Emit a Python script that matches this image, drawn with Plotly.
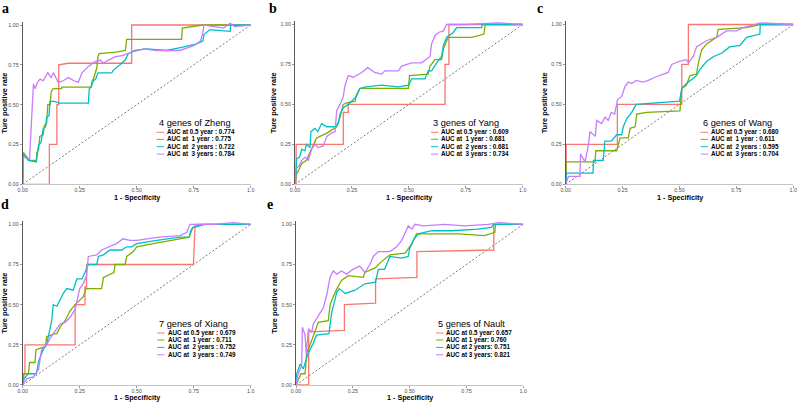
import plotly.graph_objects as go

COLORS = ["#F8766D", "#7CAE00", "#00BFC4", "#C77CFF"]

# ---------------- Panel a: 4 genes of Zheng ----------------
A_05_X = [0, 0.117, 0.117, 0.150, 0.150, 0.158, 0.158, 0.20, 0.478, 0.478, 1.0]
A_05_Y = [0, 0, 0.25, 0.25, 0.50, 0.50, 0.75, 0.76, 0.76, 1.0, 1.0]
A_1_X = [0, 0.003, 0.03, 0.06, 0.062, 0.07, 0.075, 0.09, 0.095, 0.105, 0.11, 0.12, 0.125, 0.134, 0.17, 0.172, 0.30, 0.305, 0.31, 0.32, 0.325, 0.33, 0.335, 0.41, 0.45, 0.456, 0.697, 0.70, 0.79, 1.0]
A_1_Y = [0, 0.20, 0.15, 0.15, 0.20, 0.22, 0.30, 0.31, 0.37, 0.38, 0.50, 0.50, 0.58, 0.60, 0.60, 0.61, 0.61, 0.65, 0.66, 0.72, 0.73, 0.80, 0.82, 0.83, 0.84, 0.91, 0.91, 0.98, 1.0, 1.0]
A_2_X = [0, 0.003, 0.025, 0.06, 0.065, 0.07, 0.08, 0.083, 0.09, 0.10, 0.105, 0.115, 0.12, 0.14, 0.16, 0.288, 0.292, 0.30, 0.31, 0.32, 0.33, 0.39, 0.40, 0.427, 0.449, 0.463, 0.49, 0.544, 0.63, 0.697, 0.76, 0.79, 0.795, 0.82, 0.83, 0.91, 0.912, 1.0]
A_2_Y = [0, 0.19, 0.15, 0.14, 0.20, 0.25, 0.26, 0.30, 0.35, 0.36, 0.42, 0.43, 0.52, 0.52, 0.51, 0.51, 0.60, 0.61, 0.65, 0.66, 0.70, 0.70, 0.72, 0.75, 0.78, 0.82, 0.84, 0.85, 0.84, 0.86, 0.88, 0.90, 0.94, 0.97, 0.97, 0.96, 1.0, 1.0]
A_3_X = [0, 0.003, 0.03, 0.04, 0.047, 0.055, 0.065, 0.076, 0.09, 0.11, 0.125, 0.135, 0.156, 0.178, 0.20, 0.225, 0.244, 0.26, 0.288, 0.317, 0.34, 0.354, 0.376, 0.405, 0.44, 0.478, 0.53, 0.588, 0.69, 0.75, 0.78, 0.79, 0.795, 0.84, 0.88, 0.91, 0.93, 1.0]
A_3_Y = [0, 0.17, 0.16, 0.40, 0.63, 0.60, 0.64, 0.66, 0.65, 0.70, 0.67, 0.70, 0.64, 0.65, 0.67, 0.65, 0.64, 0.70, 0.74, 0.77, 0.78, 0.76, 0.78, 0.80, 0.81, 0.83, 0.85, 0.84, 0.84, 0.87, 0.90, 0.95, 1.00, 0.99, 0.98, 1.01, 0.99, 1.0]

# ---------------- Panel b: 3 genes of Yang ----------------
B_05_X = [0, 0.005, 0.005, 0.212, 0.212, 0.234, 0.234, 0.659, 0.659, 0.676, 0.676, 1.0]
B_05_Y = [0, 0, 0.25, 0.25, 0.45, 0.45, 0.50, 0.50, 0.75, 0.75, 1.0, 1.0]
B_1_X = [0, 0.005, 0.01, 0.03, 0.05, 0.066, 0.073, 0.095, 0.14, 0.16, 0.183, 0.198, 0.212, 0.227, 0.264, 0.27, 0.285, 0.40, 0.498, 0.503, 0.585, 0.593, 0.615, 0.644, 0.652, 0.673, 0.776, 0.83, 0.835, 1.0]
B_1_Y = [0, 0.07, 0.07, 0.13, 0.15, 0.20, 0.23, 0.29, 0.32, 0.34, 0.36, 0.42, 0.50, 0.51, 0.52, 0.56, 0.60, 0.60, 0.60, 0.68, 0.69, 0.74, 0.78, 0.78, 0.85, 0.92, 0.92, 0.94, 1.0, 1.0]
B_2_X = [0, 0.005, 0.007, 0.02, 0.03, 0.044, 0.05, 0.066, 0.07, 0.088, 0.10, 0.117, 0.14, 0.176, 0.19, 0.198, 0.212, 0.234, 0.27, 0.285, 0.31, 0.38, 0.454, 0.50, 0.512, 0.571, 0.585, 0.60, 0.622, 0.644, 0.652, 0.666, 0.695, 0.71, 0.82, 0.822, 1.0]
B_2_Y = [0, 0.07, 0.16, 0.17, 0.22, 0.21, 0.25, 0.23, 0.33, 0.35, 0.33, 0.38, 0.36, 0.36, 0.38, 0.44, 0.48, 0.50, 0.55, 0.60, 0.61, 0.62, 0.61, 0.62, 0.66, 0.66, 0.71, 0.71, 0.76, 0.80, 0.87, 0.92, 0.95, 0.98, 0.98, 1.0, 1.0]
B_3_X = [0, 0.004, 0.015, 0.03, 0.044, 0.059, 0.073, 0.088, 0.10, 0.124, 0.14, 0.16, 0.176, 0.183, 0.198, 0.212, 0.22, 0.234, 0.256, 0.293, 0.32, 0.35, 0.38, 0.395, 0.454, 0.468, 0.512, 0.556, 0.593, 0.60, 0.615, 0.63, 0.652, 0.666, 0.747, 0.893, 1.0]
B_3_Y = [0, 0.10, 0.11, 0.15, 0.17, 0.15, 0.22, 0.25, 0.23, 0.24, 0.30, 0.32, 0.33, 0.46, 0.50, 0.55, 0.62, 0.68, 0.67, 0.70, 0.73, 0.70, 0.69, 0.71, 0.71, 0.74, 0.76, 0.76, 0.80, 0.88, 0.93, 0.95, 0.96, 1.0, 1.0, 1.01, 1.0]

# ---------------- Panel c: 6 genes of Wang ----------------
C_05_X = [0, 0.002, 0.002, 0.227, 0.227, 0.51, 0.51, 0.539, 0.539, 1.0]
C_05_Y = [0, 0, 0.25, 0.25, 0.50, 0.50, 0.75, 0.75, 1.0, 1.0]
C_1_X = [0, 0.002, 0.129, 0.132, 0.224, 0.227, 0.239, 0.275, 0.283, 0.305, 0.312, 0.356, 0.502, 0.51, 0.53, 0.546, 0.575, 0.583, 0.597, 0.62, 0.64, 0.663, 0.67, 0.795, 0.853, 1.0]
C_1_Y = [0, 0.14, 0.14, 0.21, 0.21, 0.23, 0.29, 0.29, 0.35, 0.36, 0.44, 0.45, 0.46, 0.60, 0.62, 0.68, 0.69, 0.76, 0.84, 0.88, 0.90, 0.92, 0.97, 0.98, 1.0, 1.0]
C_2_X = [0, 0.004, 0.12, 0.122, 0.165, 0.172, 0.20, 0.224, 0.246, 0.253, 0.268, 0.29, 0.31, 0.40, 0.50, 0.51, 0.53, 0.575, 0.59, 0.62, 0.65, 0.685, 0.72, 0.766, 0.795, 0.853, 0.855, 1.0]
C_2_Y = [0, 0.07, 0.07, 0.15, 0.15, 0.27, 0.27, 0.31, 0.31, 0.36, 0.41, 0.45, 0.50, 0.51, 0.52, 0.60, 0.63, 0.68, 0.72, 0.77, 0.80, 0.82, 0.86, 0.87, 0.92, 0.94, 1.0, 1.0]
C_3_X = [0, 0.012, 0.063, 0.065, 0.085, 0.10, 0.107, 0.13, 0.136, 0.158, 0.173, 0.187, 0.20, 0.215, 0.228, 0.246, 0.26, 0.275, 0.29, 0.31, 0.34, 0.363, 0.392, 0.43, 0.45, 0.466, 0.50, 0.53, 0.54, 0.56, 0.575, 0.597, 0.62, 0.663, 0.707, 0.75, 0.78, 0.83, 0.853, 1.0]
C_3_Y = [0, 0.05, 0.05, 0.19, 0.14, 0.25, 0.33, 0.30, 0.40, 0.38, 0.42, 0.40, 0.45, 0.44, 0.53, 0.55, 0.61, 0.64, 0.63, 0.65, 0.64, 0.65, 0.67, 0.69, 0.70, 0.75, 0.77, 0.78, 0.76, 0.80, 0.86, 0.88, 0.90, 0.92, 0.96, 0.96, 0.98, 1.0, 1.01, 1.0]

# ---------------- Panel d: 7 genes of Xiang ----------------
D_05_X = [0, 0.003, 0.003, 0.01, 0.01, 0.23, 0.23, 0.273, 0.273, 0.28, 0.28, 0.749, 0.756, 1.0]
D_05_Y = [0, 0, 0.07, 0.07, 0.25, 0.25, 0.50, 0.50, 0.61, 0.61, 0.75, 0.75, 1.0, 1.0]
D_1_X = [0, 0.006, 0.025, 0.03, 0.054, 0.058, 0.10, 0.105, 0.142, 0.15, 0.164, 0.186, 0.207, 0.23, 0.266, 0.278, 0.346, 0.354, 0.40, 0.405, 0.449, 0.456, 0.485, 0.50, 0.573, 0.66, 0.73, 0.746, 0.78, 1.0]
D_1_Y = [0, 0.07, 0.07, 0.14, 0.14, 0.22, 0.24, 0.30, 0.32, 0.32, 0.36, 0.40, 0.46, 0.50, 0.55, 0.60, 0.60, 0.67, 0.70, 0.75, 0.75, 0.80, 0.83, 0.86, 0.88, 0.90, 0.92, 0.98, 1.0, 1.0]
D_2_X = [0, 0.006, 0.025, 0.06, 0.07, 0.09, 0.105, 0.12, 0.127, 0.134, 0.15, 0.164, 0.178, 0.193, 0.222, 0.237, 0.26, 0.273, 0.288, 0.325, 0.332, 0.354, 0.383, 0.434, 0.456, 0.478, 0.50, 0.588, 0.69, 0.73, 0.737, 0.746, 0.80, 1.0]
D_2_Y = [0, 0.04, 0.07, 0.07, 0.15, 0.22, 0.25, 0.36, 0.40, 0.50, 0.49, 0.53, 0.57, 0.60, 0.59, 0.66, 0.66, 0.70, 0.75, 0.75, 0.80, 0.81, 0.84, 0.84, 0.86, 0.86, 0.88, 0.90, 0.92, 0.92, 0.96, 0.98, 1.0, 1.0]
D_3_X = [0, 0.018, 0.047, 0.07, 0.083, 0.105, 0.12, 0.134, 0.164, 0.186, 0.207, 0.23, 0.25, 0.266, 0.28, 0.288, 0.325, 0.346, 0.383, 0.412, 0.44, 0.47, 0.50, 0.544, 0.60, 0.69, 0.72, 0.734, 0.84, 0.924, 1.0]
D_3_Y = [0, 0.04, 0.05, 0.10, 0.22, 0.25, 0.29, 0.32, 0.38, 0.39, 0.42, 0.47, 0.60, 0.63, 0.68, 0.80, 0.81, 0.84, 0.86, 0.88, 0.91, 0.90, 0.90, 0.91, 0.92, 0.93, 0.95, 1.0, 1.0, 1.01, 1.0]

# ---------------- Panel e: 5 genes of Nault ----------------
E_05_X = [0, 0.056, 0.056, 0.213, 0.213, 0.35, 0.35, 0.532, 0.532, 0.87, 0.87, 1.0]
E_05_Y = [0, 0, 0.33, 0.34, 0.50, 0.51, 0.66, 0.67, 0.83, 0.84, 1.0, 1.0]
E_1_X = [0, 0.022, 0.04, 0.047, 0.062, 0.076, 0.084, 0.098, 0.142, 0.15, 0.164, 0.18, 0.20, 0.23, 0.296, 0.303, 0.35, 0.37, 0.413, 0.48, 0.51, 0.53, 0.714, 0.83, 0.875, 0.877, 1.0]
E_1_Y = [0, 0.07, 0.07, 0.20, 0.25, 0.30, 0.33, 0.39, 0.40, 0.50, 0.55, 0.60, 0.65, 0.68, 0.67, 0.70, 0.73, 0.76, 0.81, 0.82, 0.88, 0.94, 0.94, 0.93, 0.95, 1.0, 1.0]
E_2_X = [0, 0.003, 0.018, 0.032, 0.054, 0.076, 0.09, 0.135, 0.145, 0.157, 0.18, 0.19, 0.216, 0.26, 0.303, 0.35, 0.362, 0.39, 0.413, 0.465, 0.494, 0.50, 0.516, 0.538, 0.597, 0.685, 0.80, 0.86, 0.868, 1.0]
E_2_Y = [0, 0.07, 0.13, 0.10, 0.20, 0.26, 0.31, 0.32, 0.32, 0.45, 0.58, 0.60, 0.57, 0.59, 0.63, 0.64, 0.72, 0.72, 0.80, 0.79, 0.80, 0.85, 0.90, 0.94, 0.96, 0.96, 0.97, 0.98, 1.0, 1.0]
E_3_X = [0, 0.006, 0.018, 0.025, 0.028, 0.04, 0.045, 0.055, 0.07, 0.076, 0.098, 0.12, 0.135, 0.15, 0.164, 0.18, 0.20, 0.223, 0.25, 0.28, 0.303, 0.325, 0.34, 0.362, 0.413, 0.443, 0.465, 0.48, 0.494, 0.51, 0.523, 0.56, 0.655, 0.74, 0.846, 0.89, 1.0]
E_3_Y = [0, 0.05, 0.10, 0.12, 0.36, 0.31, 0.19, 0.35, 0.33, 0.38, 0.43, 0.48, 0.56, 0.67, 0.71, 0.69, 0.71, 0.69, 0.72, 0.74, 0.70, 0.75, 0.80, 0.83, 0.83, 0.86, 0.90, 0.95, 0.99, 0.97, 1.0, 0.99, 1.0, 0.99, 1.0, 1.01, 1.0]

TITLES = ["4 genes of Zheng", "3 genes of Yang", "6 genes of Wang", "7 genes of Xiang", "5 genes of Nault"]
PANEL_LABELS = ["a", "b", "c", "d", "e"]
X_TITLE = "1 - Specificity"
Y_TITLE = "Ture positive rate"
NB = "\u00a0"
LABELS_A = ["AUC at 0.5 year : 0.774", "AUC at" + NB + " 1 year : 0.775", "AUC at" + NB + " 2 years : 0.722", "AUC at" + NB + " 3 years : 0.784"]
LABELS_B = ["AUC at 0.5 year : 0.609", "AUC at" + NB + " 1 year : 0.681", "AUC at" + NB + " 2 years : 0.681", "AUC at" + NB + " 3 years : 0.734"]
LABELS_C = ["AUC at 0.5 year : 0.680", "AUC at" + NB + " 1 year : 0.611", "AUC at" + NB + " 2 years : 0.595", "AUC at" + NB + " 3 years : 0.704"]
LABELS_D = ["AUC at 0.5 year : 0.679", "AUC at" + NB + " 1 year : 0.711", "AUC at" + NB + " 2 years : 0.752", "AUC at" + NB + " 3 years : 0.749"]
LABELS_E = ["AUC at 0.5 year: 0.657", "AUC at 1 year: 0.760", "AUC at 2 years: 0.751", "AUC at 3 years: 0.821"]

X_TICKS = [0, 0.25, 0.5, 0.75, 1.0]
X_TICKTEXT = ["0.00", "0.25", "0.50", "0.75", "1.0"]
Y_TICKS = [0, 0.25, 0.5, 0.75, 1.0]
Y_TICKTEXT = ["0.00", "0.25", "0.50", "0.75", "1.00"]

panels = [
    ([(A_05_X, A_05_Y), (A_1_X, A_1_Y), (A_2_X, A_2_Y), (A_3_X, A_3_Y)], LABELS_A),
    ([(B_05_X, B_05_Y), (B_1_X, B_1_Y), (B_2_X, B_2_Y), (B_3_X, B_3_Y)], LABELS_B),
    ([(C_05_X, C_05_Y), (C_1_X, C_1_Y), (C_2_X, C_2_Y), (C_3_X, C_3_Y)], LABELS_C),
    ([(D_05_X, D_05_Y), (D_1_X, D_1_Y), (D_2_X, D_2_Y), (D_3_X, D_3_Y)], LABELS_D),
    ([(E_05_X, E_05_Y), (E_1_X, E_1_Y), (E_2_X, E_2_Y), (E_3_X, E_3_Y)], LABELS_E),
]

W, H = 798, 402
YMAX = 1.02
# pixel geometry of each plotting area: (x0, x1, y_zero_px, y_one_px)
GEOM = [
    (22.7, 250.7, 184.3, 25.0),
    (295.0, 522.7, 184.3, 24.5),
    (565.7, 793.3, 184.3, 24.5),
    (22.7, 250.7, 385.0, 224.3),
    (296.0, 523.3, 385.0, 224.3),
]
XTITLE_Y = [197.2, 197.2, 197.2, 397.4, 397.4]
LABEL_POS = [(5, 8), (273, 8), (540, 8), (5, 204), (270, 204)]
LEG_XOFF = [134, 136, 135, 134.5, 140]

FONT = "Liberation Sans, Arial, sans-serif"

fig = go.Figure()
layout = dict(width=W, height=H, margin=dict(l=0, r=0, t=0, b=0, autoexpand=False),
              paper_bgcolor="white", plot_bgcolor="white", showlegend=False)
annotations = []
shapes = []

for i, ((curves, labels), (x0, x1, yz, yo)) in enumerate(zip(panels, GEOM)):
    n = "" if i == 0 else str(i + 1)
    xa, ya = "x" + n, "y" + n
    per_unit = yz - yo
    ytop = yo - (YMAX - 1) * per_unit
    layout["xaxis" + n] = dict(
        domain=[x0 / W, x1 / W], range=[0, 1.0], anchor=ya, automargin=False,
        tickvals=X_TICKS, ticktext=X_TICKTEXT, ticks="outside", ticklen=2,
        tickcolor="#999999", tickwidth=0.8, ticklabeloverflow="allow", ticklabelstandoff=-2,
        tickfont=dict(family=FONT, size=5.3, color="#4D4D4D"),
        showline=True, linecolor="#C4C4C4", linewidth=1.4, showgrid=False, zeroline=False,
    )
    layout["yaxis" + n] = dict(
        domain=[1 - yz / H, 1 - ytop / H], range=[0, YMAX], anchor=xa, automargin=False,
        tickvals=Y_TICKS, ticktext=Y_TICKTEXT, ticks="outside", ticklen=2,
        tickcolor="#999999", tickwidth=0.8, ticklabeloverflow="allow",
        tickfont=dict(family=FONT, size=5.3, color="#4D4D4D"),
        showline=True, linecolor="#5A5A5A", linewidth=1.1, showgrid=False, zeroline=False,
        title=dict(text="<b>" + Y_TITLE + "</b>", font=dict(family=FONT, size=7.4, color="black"), standoff=2),
    )
    # x-axis title
    annotations.append(dict(x=(x0 + x1) / 2 / W, y=1 - XTITLE_Y[i] / H, xref="paper", yref="paper",
                            text="<b>" + X_TITLE + "</b>", showarrow=False, xanchor="center", yanchor="middle",
                            borderpad=0, font=dict(family=FONT, size=7.2, color="black")))
    # diagonal reference
    fig.add_trace(go.Scatter(x=[0, 1], y=[0, 1], mode="lines", xaxis=xa, yaxis=ya,
                             line=dict(color="#555555", width=0.8, dash="2px,2px"), hoverinfo="skip"))
    for (cx, cy), col, lab in zip(curves, COLORS, labels):
        fig.add_trace(go.Scatter(x=cx, y=cy, mode="lines", name=lab, xaxis=xa, yaxis=ya,
                                 line=dict(color=col, width=1.3)))
    # legend (drawn as text + key lines)
    wpx = x1 - x0
    xo = LEG_XOFF[i]
    annotations.append(dict(x=xo / wpx, y=61 / per_unit, xref=xa, yref=ya, text=TITLES[i],
                            showarrow=False, xanchor="left", yanchor="middle",
                            font=dict(family=FONT, size=9.2, color="black")))
    for k, (col, lab) in enumerate(zip(COLORS, labels)):
        yy = [52, 45, 37.6, 30.2][k] / per_unit
        shapes.append(dict(type="line", xref=xa, yref=ya, x0=xo / wpx, x1=(xo + 7.3) / wpx,
                           y0=yy, y1=yy, line=dict(color=col, width=1)))
        annotations.append(dict(x=(xo + 8.3) / wpx, y=yy, xref=xa, yref=ya, text="<b>" + lab + "</b>",
                                showarrow=False, xanchor="left", yanchor="middle",
                                font=dict(family=FONT, size=6.3, color="black")))
    lx, ly = LABEL_POS[i]
    annotations.append(dict(x=lx / W, y=1 - ly / H, xref="paper", yref="paper", text="<b>" + PANEL_LABELS[i] + "</b>",
                            showarrow=False, xanchor="center", yanchor="middle",
                            font=dict(family="Liberation Serif, Times New Roman, serif", size=14, color="black")))

layout["annotations"] = annotations
layout["shapes"] = shapes
fig.update_layout(**layout)
fig.write_html("out.html", config={"displayModeBar": False},
               post_script="document.body.style.margin='0px';document.body.style.overflow='hidden';")
